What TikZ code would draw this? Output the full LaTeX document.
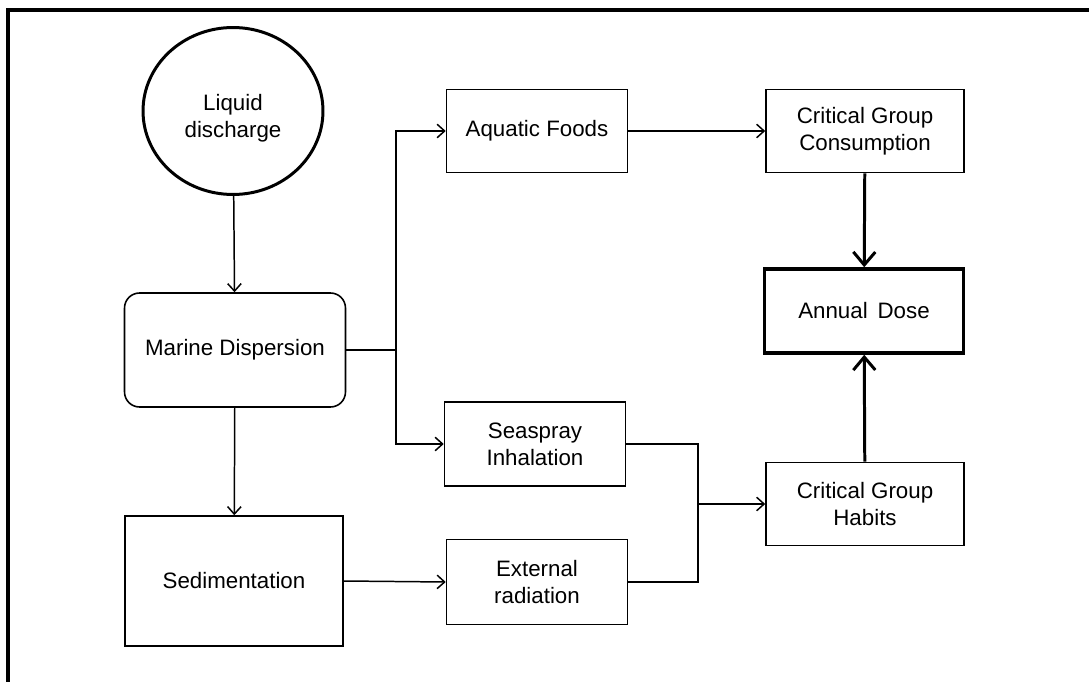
\documentclass[tikz,border=0pt]{standalone}
\usepackage{fontspec}
\setmainfont{Liberation Sans}
\usetikzlibrary{arrows.meta, positioning, shapes.geometric}

\begin{document}
\begin{tikzpicture}[
        x=0.02cm, y=-0.02cm,
        every node/.style={font=\fontsize{12.7}{15.3}\selectfont, align=center},
        box/.style={draw, line width=0.9pt, minimum width=3.62cm, minimum height=1.66cm, inner sep=2pt},
        flow/.style={line width=0.85pt, -{Straight Barb[length=1.5mm, width=2.7mm]}},
        bigflow/.style={line width=1.7pt, -{Straight Barb[length=2.6mm, width=4.4mm]}},
        link/.style={line width=0.85pt}
    ]
    
    \useasboundingbox (0,0) rectangle (1089,682);
    
    % Frame
    \draw[line width=1.8pt] (8,682) |- (1089,10);
    
    % Source and dispersion
    \node[draw, ellipse, line width=1.7pt, minimum width=3.6cm, minimum height=3.34cm, text height=1.16cm] (liquid) at (233,111) {Liquid\\discharge};
    \node[draw, rounded corners=0.3cm, line width=0.9pt, minimum width=4.42cm, minimum height=2.28cm] (marine) at (235,350) {Marine Dispersion};
    \node[box, minimum width=4.36cm, minimum height=2.6cm] (sedim) at (234,581) {Sedimentation};
    
    % Pathways
    \node[box] (aquatic) at (537,131) {Aquatic Foods};
    \node[box, minimum height=1.68cm] (seaspray) at (535,444) {Seaspray\\Inhalation};
    \node[box, minimum height=1.7cm] (external) at (537,582) {External\\radiation};
    
    % Critical group and dose
    \node[box, minimum width=3.96cm] (consume) at (865,131) {Critical Group\\Consumption};
    \node[draw, line width=2pt, minimum width=3.98cm, minimum height=1.68cm] (dose) at (864,311) {Annual\, Dose};
    \node[box, minimum width=3.96cm] (habits) at (865,504) {Critical Group\\Habits};
    
    % Connectors
    \coordinate (split) at (396,350);
    \coordinate (merge) at (698,504);
    \draw[flow] (liquid) -- (marine);
    \draw[flow] (marine) -- (sedim);
    \draw[link] (marine.east) -- (split);
    \draw[flow] (split) |- (aquatic.west);
    \draw[flow] (split) |- (seaspray.west);
    \draw[flow] (sedim.east) -- (external.west);
    \draw[flow] (aquatic) -- (consume);
    \draw[link] (seaspray.east) -| (merge);
    \draw[link] (external.east) -| (merge);
    \draw[flow] (merge) -- (habits.west);
    \draw[bigflow] (consume) -- (dose);
    \draw[bigflow] (habits) -- (dose);
    
\end{tikzpicture}
\end{document}
